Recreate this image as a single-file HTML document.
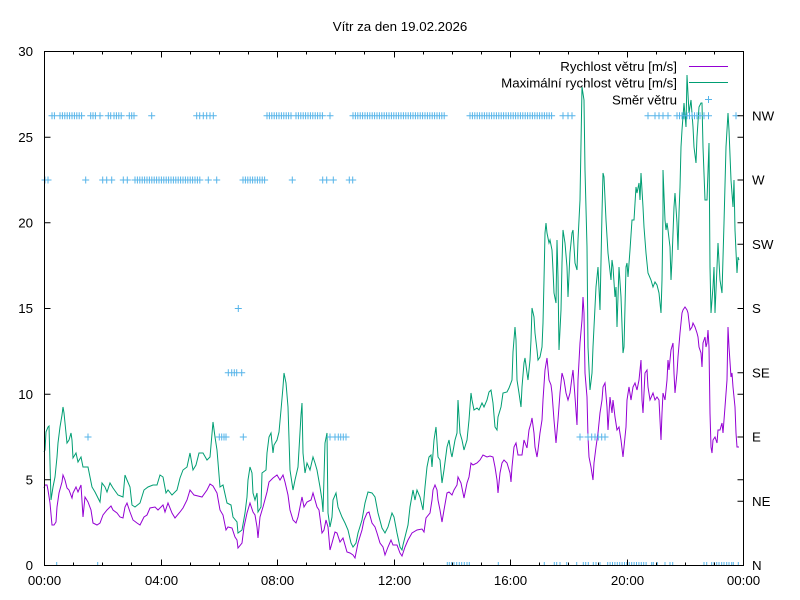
<!DOCTYPE html>
<html><head><meta charset="utf-8"><style>
html,body{margin:0;padding:0;background:#fff;}
svg{display:block;}
text{font-family:"Liberation Sans",Arial,sans-serif;font-size:13.3px;fill:#000;}
</style></head><body>
<svg width="800" height="600" viewBox="0 0 800 600" xmlns="http://www.w3.org/2000/svg">
<rect width="800" height="600" fill="#fff"/>
<defs><clipPath id="cb"><rect x="0" y="0" width="800" height="565.5"/></clipPath></defs>
<text x="400" y="31" text-anchor="middle">Vítr za den 19.02.2026</text>

<!-- series -->
<polyline fill="none" stroke="#9400d3" stroke-width="1" points="44,488 45,485 47,485 48,490 50,503 52,525 54,525 56,522 57,507 59,493 62,482 63,475 65,480 67,488 69,490 72,498 73,493 76,487 78,492 81,485 83,517 85,497 88,502 91,510 93,523 97,525 100,523 103,515 107,510 111,506 113,510 117,513 120,517 123,518 125,507 127,503 130,512 133,520 137,523 140,525 144,517 147,515 150,508 155,507 158,510 163,505 165,512 168,503 172,513 175,518 180,512 183,508 187,500 190,490 194,495 198,496 202,497 207,490 210,484 213,486 217,493 220,510 223,515 226,530 228,527 232,528 235,537 237,540 238,548 242,543 244,527 247,513 250,503 253,512 255,515 257,527 258,538 260,517 263,507 267,492 269,482 273,478 277,475 280,480 283,475 285,482 288,495 290,510 293,520 296,523 298,517 300,507 302,497 304,507 307,502 311,500 313,493 317,507 319,510 322,533 324,530 326,520 328,527 330,550 332,543 335,532 337,533 340,542 343,538 347,552 350,553 353,555 355,558 358,543 362,530 364,520 367,513 369,512 372,523 375,527 377,533 380,543 383,547 385,555 388,547 391,540 393,545 397,545 400,553 402,556 405,547 408,540 412,533 417,530 422,529 424,532 426,518 430,513 432,500 433,490 435,485 437,490 438,500 440,510 442,522 444,510 447,493 449,492 452,495 454,490 457,485 458,477 461,483 463,493 464,498 467,483 469,477 471,463 473,465 477,463 480,460 483,455 487,457 490,456 493,457 495,467 497,480 498,493 500,473 502,463 504,460 507,463 510,473 511,482 512,467 514,447 516,443 518,455 522,455 524,440 527,448 529,430 531,423 532,418 534,433 535,447 537,457 538,450 540,433 542,420 543,400 545,370 547,358 549,380 551,385 552,393 554,420 556,443 558,420 560,393 562,373 564,380 566,393 568,400 570,393 572,377 573,370 575,397 577,425 578,380 580,343 582,320 583,297 584,313 585,373 587,397 588,437 589,457 591,467 593,480 594,463 596,447 598,433 600,413 602,400 603,387 605,383 607,407 608,430 610,397 612,413 613,400 615,417 617,430 619,427 621,440 623,457 624,447 626,427 627,400 629,387 631,400 633,387 635,383 637,390 639,380 641,360 642,400 643,413 645,373 647,370 648,387 650,400 653,393 655,400 657,397 659,400 661,440 662,413 663,393 665,400 667,380 668,360 669,370 671,350 673,343 674,373 675,393 677,373 678,357 680,333 682,313 683,310 685,307 687,310 688,313 690,330 692,327 693,323 695,327 697,333 698,337 699,347 701,353 702,367 703,343 705,337 706,347 707,343 708,330 709,347 710,413 711,447 712,453 713,440 715,437 717,443 718,430 720,430 722,423 723,433 725,407 727,380 728,327 729,347 731,377 732,373 733,387 735,407 736,433 737,447 739,447"/>
<polyline fill="none" stroke="#009e73" stroke-width="1" points="44,452 45,450 46,432 48,427 49,426 51,500 53,487 55,477 57,457 58,443 60,427 62,415 63,407 64,413 66,433 67,443 69,440 71,433 72,440 73,458 76,453 78,462 81,457 83,467 88,467 90,477 92,487 95,492 100,502 102,483 105,487 107,492 110,483 113,488 118,495 123,497 125,475 127,480 130,487 132,505 135,507 140,503 144,490 148,487 153,485 157,485 160,475 163,477 166,493 168,490 172,495 177,490 180,478 183,470 187,467 190,453 193,470 196,465 199,453 203,453 207,460 210,457 213,422 215,437 217,450 220,487 223,485 227,503 231,505 233,517 237,522 238,533 242,530 245,513 247,497 248,480 250,467 252,473 253,493 255,500 257,493 258,512 261,507 262,473 266,470 267,453 269,437 271,433 273,453 274,445 277,440 279,432 281,410 283,387 284,373 286,383 288,407 290,470 293,490 295,480 298,467 301,415 302,403 303,453 305,473 307,463 310,470 313,457 315,463 317,470 320,487 322,500 323,512 325,443 327,433 328,513 330,527 332,517 333,500 336,493 338,507 342,517 345,523 348,530 351,543 353,547 356,543 358,533 362,520 365,503 368,492 372,493 375,497 378,513 382,528 385,533 388,527 392,513 394,517 397,533 400,547 402,550 403,545 406,533 408,525 410,507 413,490 415,500 417,490 420,497 423,510 425,487 427,467 429,457 431,455 432,467 434,440 436,427 438,457 440,460 442,483 444,470 447,447 449,440 451,453 452,457 455,440 457,433 458,400 460,433 462,440 464,450 467,440 469,420 471,393 472,400 474,410 477,408 479,410 482,403 484,407 487,400 489,392 491,390 493,403 495,427 497,430 498,417 501,407 503,393 507,392 509,388 512,380 513,352 515,327 516,340 517,380 519,393 521,407 522,387 524,363 525,358 527,373 528,380 530,360 531,340 532,308 534,317 535,333 537,350 538,360 540,357 542,347 543,323 544,280 545,233 546,223 547,233 549,243 550,240 552,250 553,270 554,293 556,303 557,240 558,277 559,350 561,310 562,263 563,230 565,243 567,267 568,297 570,253 572,233 573,230 575,263 577,270 578,240 579,220 580,200 582,87 584,100 585,170 587,247 588,347 590,390 592,373 593,347 596,287 598,267 600,310 602,213 603,173 604,177 606,220 608,253 611,280 612,260 613,267 615,297 616,287 617,327 619,267 621,297 623,353 624,347 626,267 627,263 628,277 630,250 632,220 634,220 636,187 637,193 639,183 640,200 641,173 643,207 644,227 646,253 648,273 651,280 653,287 655,282 657,285 659,293 661,313 662,280 663,213 663,170 665,220 666,230 667,223 668,230 670,247 671,280 672,260 674,207 675,193 677,223 678,250 679,213 680,187 681,147 682,130 684,103 686,127 687,75 689,113 691,100 693,127 694,147 696,163 697,137 699,107 701,103 702,103 703,147 705,200 707,200 709,143 710,267 711,313 713,287 714,267 715,313 717,267 718,243 720,280 722,293 724,223 726,147 728,113 729,130 731,180 733,207 734,180 735,230 737,273 738,257 739,260"/>

<!-- direction markers -->
<g fill="none" stroke="#56b4e9" stroke-width="1">
<path transform="translate(0,115.75)" d="M52 0m-3.5 0h7m-3.5-3.5v7M54.4 0m-3.5 0h7m-3.5-3.5v7M60 0m-3.5 0h7m-3.5-3.5v7M62.4 0m-3.5 0h7m-3.5-3.5v7M64.8 0m-3.5 0h7m-3.5-3.5v7M67.2 0m-3.5 0h7m-3.5-3.5v7M69.6 0m-3.5 0h7m-3.5-3.5v7M72 0m-3.5 0h7m-3.5-3.5v7M74.4 0m-3.5 0h7m-3.5-3.5v7M76.8 0m-3.5 0h7m-3.5-3.5v7M79.2 0m-3.5 0h7m-3.5-3.5v7M81.6 0m-3.5 0h7m-3.5-3.5v7M90.7 0m-3.5 0h7m-3.5-3.5v7M93 0m-3.5 0h7m-3.5-3.5v7M95.4 0m-3.5 0h7m-3.5-3.5v7M100 0m-3.5 0h7m-3.5-3.5v7M108.3 0m-3.5 0h7m-3.5-3.5v7M110.7 0m-3.5 0h7m-3.5-3.5v7M114 0m-3.5 0h7m-3.5-3.5v7M116.4 0m-3.5 0h7m-3.5-3.5v7M118.8 0m-3.5 0h7m-3.5-3.5v7M121.2 0m-3.5 0h7m-3.5-3.5v7M129.3 0m-3.5 0h7m-3.5-3.5v7M131.7 0m-3.5 0h7m-3.5-3.5v7M134 0m-3.5 0h7m-3.5-3.5v7M151.7 0m-3.5 0h7m-3.5-3.5v7M196.7 0m-3.5 0h7m-3.5-3.5v7M199.7 0m-3.5 0h7m-3.5-3.5v7M203.3 0m-3.5 0h7m-3.5-3.5v7M206.7 0m-3.5 0h7m-3.5-3.5v7M210 0m-3.5 0h7m-3.5-3.5v7M213.3 0m-3.5 0h7m-3.5-3.5v7M267 0m-3.5 0h7m-3.5-3.5v7M269.4 0m-3.5 0h7m-3.5-3.5v7M271.8 0m-3.5 0h7m-3.5-3.5v7M274.2 0m-3.5 0h7m-3.5-3.5v7M276.6 0m-3.5 0h7m-3.5-3.5v7M279 0m-3.5 0h7m-3.5-3.5v7M281.4 0m-3.5 0h7m-3.5-3.5v7M283.8 0m-3.5 0h7m-3.5-3.5v7M286.2 0m-3.5 0h7m-3.5-3.5v7M288.6 0m-3.5 0h7m-3.5-3.5v7M291 0m-3.5 0h7m-3.5-3.5v7M296 0m-3.5 0h7m-3.5-3.5v7M298.4 0m-3.5 0h7m-3.5-3.5v7M300.8 0m-3.5 0h7m-3.5-3.5v7M303.2 0m-3.5 0h7m-3.5-3.5v7M305.6 0m-3.5 0h7m-3.5-3.5v7M308 0m-3.5 0h7m-3.5-3.5v7M310.4 0m-3.5 0h7m-3.5-3.5v7M312.8 0m-3.5 0h7m-3.5-3.5v7M315.2 0m-3.5 0h7m-3.5-3.5v7M317.6 0m-3.5 0h7m-3.5-3.5v7M320 0m-3.5 0h7m-3.5-3.5v7M322.4 0m-3.5 0h7m-3.5-3.5v7M330 0m-3.5 0h7m-3.5-3.5v7M353 0m-3.5 0h7m-3.5-3.5v7M355.4 0m-3.5 0h7m-3.5-3.5v7M357.8 0m-3.5 0h7m-3.5-3.5v7M360.2 0m-3.5 0h7m-3.5-3.5v7M362.6 0m-3.5 0h7m-3.5-3.5v7M365 0m-3.5 0h7m-3.5-3.5v7M367.4 0m-3.5 0h7m-3.5-3.5v7M369.8 0m-3.5 0h7m-3.5-3.5v7M372.2 0m-3.5 0h7m-3.5-3.5v7M374.6 0m-3.5 0h7m-3.5-3.5v7M377 0m-3.5 0h7m-3.5-3.5v7M379.4 0m-3.5 0h7m-3.5-3.5v7M381.8 0m-3.5 0h7m-3.5-3.5v7M384.2 0m-3.5 0h7m-3.5-3.5v7M386.6 0m-3.5 0h7m-3.5-3.5v7M389 0m-3.5 0h7m-3.5-3.5v7M391.4 0m-3.5 0h7m-3.5-3.5v7M393.8 0m-3.5 0h7m-3.5-3.5v7M396.2 0m-3.5 0h7m-3.5-3.5v7M398.6 0m-3.5 0h7m-3.5-3.5v7M401 0m-3.5 0h7m-3.5-3.5v7M403.4 0m-3.5 0h7m-3.5-3.5v7M405.8 0m-3.5 0h7m-3.5-3.5v7M408.2 0m-3.5 0h7m-3.5-3.5v7M410.6 0m-3.5 0h7m-3.5-3.5v7M413 0m-3.5 0h7m-3.5-3.5v7M415.4 0m-3.5 0h7m-3.5-3.5v7M417.8 0m-3.5 0h7m-3.5-3.5v7M420.2 0m-3.5 0h7m-3.5-3.5v7M422.6 0m-3.5 0h7m-3.5-3.5v7M425 0m-3.5 0h7m-3.5-3.5v7M427.4 0m-3.5 0h7m-3.5-3.5v7M429.8 0m-3.5 0h7m-3.5-3.5v7M432.2 0m-3.5 0h7m-3.5-3.5v7M434.6 0m-3.5 0h7m-3.5-3.5v7M437 0m-3.5 0h7m-3.5-3.5v7M439.4 0m-3.5 0h7m-3.5-3.5v7M441.8 0m-3.5 0h7m-3.5-3.5v7M444.2 0m-3.5 0h7m-3.5-3.5v7M470 0m-3.5 0h7m-3.5-3.5v7M472.4 0m-3.5 0h7m-3.5-3.5v7M474.8 0m-3.5 0h7m-3.5-3.5v7M477.2 0m-3.5 0h7m-3.5-3.5v7M479.6 0m-3.5 0h7m-3.5-3.5v7M482 0m-3.5 0h7m-3.5-3.5v7M484.4 0m-3.5 0h7m-3.5-3.5v7M486.8 0m-3.5 0h7m-3.5-3.5v7M489.2 0m-3.5 0h7m-3.5-3.5v7M491.6 0m-3.5 0h7m-3.5-3.5v7M494 0m-3.5 0h7m-3.5-3.5v7M496.4 0m-3.5 0h7m-3.5-3.5v7M498.8 0m-3.5 0h7m-3.5-3.5v7M501.2 0m-3.5 0h7m-3.5-3.5v7M503.6 0m-3.5 0h7m-3.5-3.5v7M506 0m-3.5 0h7m-3.5-3.5v7M508.4 0m-3.5 0h7m-3.5-3.5v7M510.8 0m-3.5 0h7m-3.5-3.5v7M513.2 0m-3.5 0h7m-3.5-3.5v7M515.6 0m-3.5 0h7m-3.5-3.5v7M518 0m-3.5 0h7m-3.5-3.5v7M520.4 0m-3.5 0h7m-3.5-3.5v7M522.8 0m-3.5 0h7m-3.5-3.5v7M525.2 0m-3.5 0h7m-3.5-3.5v7M527.6 0m-3.5 0h7m-3.5-3.5v7M530 0m-3.5 0h7m-3.5-3.5v7M532.4 0m-3.5 0h7m-3.5-3.5v7M534.8 0m-3.5 0h7m-3.5-3.5v7M537.2 0m-3.5 0h7m-3.5-3.5v7M539.6 0m-3.5 0h7m-3.5-3.5v7M542 0m-3.5 0h7m-3.5-3.5v7M544.4 0m-3.5 0h7m-3.5-3.5v7M546.8 0m-3.5 0h7m-3.5-3.5v7M549.2 0m-3.5 0h7m-3.5-3.5v7M551.6 0m-3.5 0h7m-3.5-3.5v7M563 0m-3.5 0h7m-3.5-3.5v7M568 0m-3.5 0h7m-3.5-3.5v7M572 0m-3.5 0h7m-3.5-3.5v7M648 0m-3.5 0h7m-3.5-3.5v7M655 0m-3.5 0h7m-3.5-3.5v7M659 0m-3.5 0h7m-3.5-3.5v7M663 0m-3.5 0h7m-3.5-3.5v7M668 0m-3.5 0h7m-3.5-3.5v7M677 0m-3.5 0h7m-3.5-3.5v7M679.5 0m-3.5 0h7m-3.5-3.5v7M682 0m-3.5 0h7m-3.5-3.5v7M684 0m-3.5 0h7m-3.5-3.5v7M687 0m-3.5 0h7m-3.5-3.5v7M689.5 0m-3.5 0h7m-3.5-3.5v7M692 0m-3.5 0h7m-3.5-3.5v7M694.5 0m-3.5 0h7m-3.5-3.5v7M697 0m-3.5 0h7m-3.5-3.5v7M700 0m-3.5 0h7m-3.5-3.5v7M704 0m-3.5 0h7m-3.5-3.5v7M708.5 0m-3.5 0h7m-3.5-3.5v7M736 0m-3.5 0h7m-3.5-3.5v7"/>
<path transform="translate(0,180)" d="M45 0m-3.5 0h7m-3.5-3.5v7M48 0m-3.5 0h7m-3.5-3.5v7M85.7 0m-3.5 0h7m-3.5-3.5v7M102.7 0m-3.5 0h7m-3.5-3.5v7M106.7 0m-3.5 0h7m-3.5-3.5v7M111.7 0m-3.5 0h7m-3.5-3.5v7M123.3 0m-3.5 0h7m-3.5-3.5v7M127.3 0m-3.5 0h7m-3.5-3.5v7M135 0m-3.5 0h7m-3.5-3.5v7M137.4 0m-3.5 0h7m-3.5-3.5v7M139.8 0m-3.5 0h7m-3.5-3.5v7M142.2 0m-3.5 0h7m-3.5-3.5v7M144.6 0m-3.5 0h7m-3.5-3.5v7M147 0m-3.5 0h7m-3.5-3.5v7M149.4 0m-3.5 0h7m-3.5-3.5v7M151.8 0m-3.5 0h7m-3.5-3.5v7M154.2 0m-3.5 0h7m-3.5-3.5v7M156.6 0m-3.5 0h7m-3.5-3.5v7M159 0m-3.5 0h7m-3.5-3.5v7M161.4 0m-3.5 0h7m-3.5-3.5v7M163.8 0m-3.5 0h7m-3.5-3.5v7M166.2 0m-3.5 0h7m-3.5-3.5v7M168.6 0m-3.5 0h7m-3.5-3.5v7M171 0m-3.5 0h7m-3.5-3.5v7M173.4 0m-3.5 0h7m-3.5-3.5v7M175.8 0m-3.5 0h7m-3.5-3.5v7M178.2 0m-3.5 0h7m-3.5-3.5v7M180.6 0m-3.5 0h7m-3.5-3.5v7M183 0m-3.5 0h7m-3.5-3.5v7M185.4 0m-3.5 0h7m-3.5-3.5v7M187.8 0m-3.5 0h7m-3.5-3.5v7M190.2 0m-3.5 0h7m-3.5-3.5v7M192.6 0m-3.5 0h7m-3.5-3.5v7M195 0m-3.5 0h7m-3.5-3.5v7M197.4 0m-3.5 0h7m-3.5-3.5v7M199.8 0m-3.5 0h7m-3.5-3.5v7M208.3 0m-3.5 0h7m-3.5-3.5v7M216.7 0m-3.5 0h7m-3.5-3.5v7M243 0m-3.5 0h7m-3.5-3.5v7M245.4 0m-3.5 0h7m-3.5-3.5v7M247.8 0m-3.5 0h7m-3.5-3.5v7M250.2 0m-3.5 0h7m-3.5-3.5v7M252.6 0m-3.5 0h7m-3.5-3.5v7M255 0m-3.5 0h7m-3.5-3.5v7M257.4 0m-3.5 0h7m-3.5-3.5v7M259.8 0m-3.5 0h7m-3.5-3.5v7M262.2 0m-3.5 0h7m-3.5-3.5v7M264.6 0m-3.5 0h7m-3.5-3.5v7M292.3 0m-3.5 0h7m-3.5-3.5v7M322.7 0m-3.5 0h7m-3.5-3.5v7M326.7 0m-3.5 0h7m-3.5-3.5v7M333.3 0m-3.5 0h7m-3.5-3.5v7M349.3 0m-3.5 0h7m-3.5-3.5v7M352.7 0m-3.5 0h7m-3.5-3.5v7"/>
<path transform="translate(0,308.5)" d="M238.3 0m-3.5 0h7m-3.5-3.5v7"/>
<path transform="translate(0,372.75)" d="M228.3 0m-3.5 0h7m-3.5-3.5v7M231.7 0m-3.5 0h7m-3.5-3.5v7M234.3 0m-3.5 0h7m-3.5-3.5v7M236.7 0m-3.5 0h7m-3.5-3.5v7M241.7 0m-3.5 0h7m-3.5-3.5v7"/>
<path transform="translate(0,437)" d="M88 0m-3.5 0h7m-3.5-3.5v7M219.3 0m-3.5 0h7m-3.5-3.5v7M221.7 0m-3.5 0h7m-3.5-3.5v7M224 0m-3.5 0h7m-3.5-3.5v7M226 0m-3.5 0h7m-3.5-3.5v7M243.3 0m-3.5 0h7m-3.5-3.5v7M330 0m-3.5 0h7m-3.5-3.5v7M335 0m-3.5 0h7m-3.5-3.5v7M338.3 0m-3.5 0h7m-3.5-3.5v7M340.7 0m-3.5 0h7m-3.5-3.5v7M343.3 0m-3.5 0h7m-3.5-3.5v7M346 0m-3.5 0h7m-3.5-3.5v7M580 0m-3.5 0h7m-3.5-3.5v7M588 0m-3.5 0h7m-3.5-3.5v7M591.7 0m-3.5 0h7m-3.5-3.5v7M595 0m-3.5 0h7m-3.5-3.5v7M598.3 0m-3.5 0h7m-3.5-3.5v7M601.7 0m-3.5 0h7m-3.5-3.5v7M605 0m-3.5 0h7m-3.5-3.5v7"/>
<g clip-path="url(#cb)"><path transform="translate(0,565.5)" d="M56.7 0m-3.5 0h7m-3.5-3.5v7M97.7 0m-3.5 0h7m-3.5-3.5v7M447.3 0m-3.5 0h7m-3.5-3.5v7M449.3 0m-3.5 0h7m-3.5-3.5v7M451.7 0m-3.5 0h7m-3.5-3.5v7M454 0m-3.5 0h7m-3.5-3.5v7M456.7 0m-3.5 0h7m-3.5-3.5v7M459.3 0m-3.5 0h7m-3.5-3.5v7M461.7 0m-3.5 0h7m-3.5-3.5v7M464.3 0m-3.5 0h7m-3.5-3.5v7M467 0m-3.5 0h7m-3.5-3.5v7M469.3 0m-3.5 0h7m-3.5-3.5v7M498.3 0m-3.5 0h7m-3.5-3.5v7M544.3 0m-3.5 0h7m-3.5-3.5v7M554.3 0m-3.5 0h7m-3.5-3.5v7M556.7 0m-3.5 0h7m-3.5-3.5v7M560 0m-3.5 0h7m-3.5-3.5v7M566.7 0m-3.5 0h7m-3.5-3.5v7M576.7 0m-3.5 0h7m-3.5-3.5v7M583.3 0m-3.5 0h7m-3.5-3.5v7M585.7 0m-3.5 0h7m-3.5-3.5v7M588.3 0m-3.5 0h7m-3.5-3.5v7M593.3 0m-3.5 0h7m-3.5-3.5v7M596 0m-3.5 0h7m-3.5-3.5v7M600 0m-3.5 0h7m-3.5-3.5v7M607.7 0m-3.5 0h7m-3.5-3.5v7M610.1 0m-3.5 0h7m-3.5-3.5v7M612.5 0m-3.5 0h7m-3.5-3.5v7M614.9 0m-3.5 0h7m-3.5-3.5v7M617.3 0m-3.5 0h7m-3.5-3.5v7M619.7 0m-3.5 0h7m-3.5-3.5v7M622.1 0m-3.5 0h7m-3.5-3.5v7M624.5 0m-3.5 0h7m-3.5-3.5v7M626.9 0m-3.5 0h7m-3.5-3.5v7M629.3 0m-3.5 0h7m-3.5-3.5v7M631.7 0m-3.5 0h7m-3.5-3.5v7M634.1 0m-3.5 0h7m-3.5-3.5v7M636.5 0m-3.5 0h7m-3.5-3.5v7M638.9 0m-3.5 0h7m-3.5-3.5v7M641.3 0m-3.5 0h7m-3.5-3.5v7M643.7 0m-3.5 0h7m-3.5-3.5v7M646.1 0m-3.5 0h7m-3.5-3.5v7M651.7 0m-3.5 0h7m-3.5-3.5v7M653.3 0m-3.5 0h7m-3.5-3.5v7M657.3 0m-3.5 0h7m-3.5-3.5v7M665 0m-3.5 0h7m-3.5-3.5v7M670 0m-3.5 0h7m-3.5-3.5v7M672.7 0m-3.5 0h7m-3.5-3.5v7M704 0m-3.5 0h7m-3.5-3.5v7M706.7 0m-3.5 0h7m-3.5-3.5v7M711.7 0m-3.5 0h7m-3.5-3.5v7M714 0m-3.5 0h7m-3.5-3.5v7M716.7 0m-3.5 0h7m-3.5-3.5v7M719 0m-3.5 0h7m-3.5-3.5v7M721.7 0m-3.5 0h7m-3.5-3.5v7M724 0m-3.5 0h7m-3.5-3.5v7M726.7 0m-3.5 0h7m-3.5-3.5v7M729 0m-3.5 0h7m-3.5-3.5v7M731.7 0m-3.5 0h7m-3.5-3.5v7M733.3 0m-3.5 0h7m-3.5-3.5v7M738.3 0m-3.5 0h7m-3.5-3.5v7"/></g>
</g>

<!-- axes border and ticks -->
<g fill="none" stroke="#000" stroke-width="1">
<rect x="44.5" y="51.5" width="699" height="514"/>
<path d="M44.5 479.8h6M44.5 394.2h6M44.5 308.5h6M44.5 222.8h6M44.5 137.2h6
M743.5 479.8h-6M743.5 394.2h-6M743.5 308.5h-6M743.5 222.8h-6M743.5 137.2h-6
M743.5 501.25h-6M743.5 437h-6M743.5 372.75h-6M743.5 244.25h-6M743.5 180h-6M743.5 115.75h-6
M73.5 565.5v-3M102.5 565.5v-3M131.5 565.5v-3M161.5 565.5v-6M190.5 565.5v-3M219.5 565.5v-3M248.5 565.5v-3M277.5 565.5v-6M306.5 565.5v-3M335.5 565.5v-3M364.5 565.5v-3M394.5 565.5v-6M423.5 565.5v-3M452.5 565.5v-3M481.5 565.5v-3M510.5 565.5v-6M539.5 565.5v-3M568.5 565.5v-3M598.5 565.5v-3M627.5 565.5v-6M656.5 565.5v-3M685.5 565.5v-3M714.5 565.5v-3
M73.5 51.5v3M102.5 51.5v3M131.5 51.5v3M161.5 51.5v6M190.5 51.5v3M219.5 51.5v3M248.5 51.5v3M277.5 51.5v6M306.5 51.5v3M335.5 51.5v3M364.5 51.5v3M394.5 51.5v6M423.5 51.5v3M452.5 51.5v3M481.5 51.5v3M510.5 51.5v6M539.5 51.5v3M568.5 51.5v3M598.5 51.5v3M627.5 51.5v6M656.5 51.5v3M685.5 51.5v3M714.5 51.5v3"/>
</g>

<!-- left y labels -->
<g text-anchor="end">
<text x="33" y="570.2">0</text>
<text x="33" y="484.5">5</text>
<text x="33" y="398.9">10</text>
<text x="33" y="313.2">15</text>
<text x="33" y="227.5">20</text>
<text x="33" y="141.9">25</text>
<text x="33" y="56.2">30</text>
</g>
<!-- right y2 labels -->
<g text-anchor="start">
<text x="752" y="570.2">N</text>
<text x="752" y="506">NE</text>
<text x="752" y="441.7">E</text>
<text x="752" y="377.5">SE</text>
<text x="752" y="313.2">S</text>
<text x="752" y="249">SW</text>
<text x="752" y="184.7">W</text>
<text x="752" y="120.5">NW</text>
</g>
<!-- x labels -->
<g text-anchor="middle">
<text x="44.5" y="585">00:00</text>
<text x="161.5" y="585">04:00</text>
<text x="277.5" y="585">08:00</text>
<text x="394.5" y="585">12:00</text>
<text x="510.5" y="585">16:00</text>
<text x="627.5" y="585">20:00</text>
<text x="743.5" y="585">00:00</text>
</g>

<!-- legend -->
<g text-anchor="end">
<text x="677" y="71">Rychlost větru [m/s]</text>
<text x="677" y="87.5">Maximální rychlost větru [m/s]</text>
<text x="677" y="104.5">Směr větru</text>
</g>
<path d="M689 66.5h39" stroke="#9400d3" stroke-width="1" fill="none"/>
<path d="M689 82.5h39" stroke="#009e73" stroke-width="1" fill="none"/>
<path d="M705 99.5h7M708.5 96v7" stroke="#56b4e9" stroke-width="1" fill="none"/>
</svg>
</body></html>
